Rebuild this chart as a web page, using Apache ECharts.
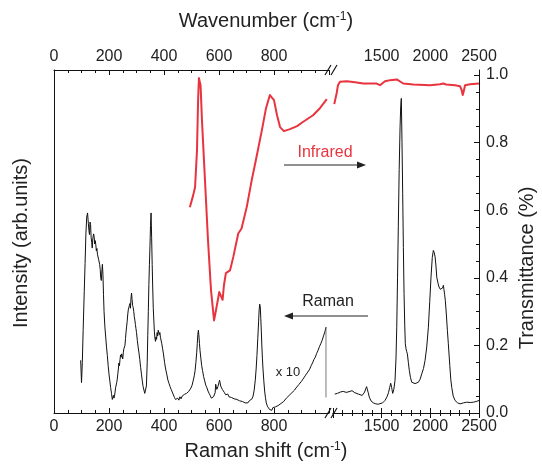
<!DOCTYPE html>
<html><head><meta charset="utf-8">
<script src="https://cdn.jsdelivr.net/npm/echarts@6/dist/echarts.min.js"></script>
<style>html,body{margin:0;padding:0;background:#fff}#c{width:542px;height:465px}</style>
</head><body><div id="c"></div>
<script>
// ---- data ----
const ramanLowX = [97,100,103,106,110,113,116,119,122,125,127,129,131,133,135,137,139,141,144,146,148,150,152,154,156,158,160,162,164,166,168,170,172,174,176,178,180,182,185,188,191,194,197,200,203,206,209,212,214,216,218,220,222,224,226,228,230,232,234,236,238,240,242,244,246,248,250,252,254,256,258,260,262,264,266,268,270,272,274,276,278,280,282,284,286,288,290,292,294,296,298,300,303,306,309,312,315,318,321,324,327,330,333,336,339,341,343,345,347,349,351,353,355,357,359,361,363,365,367,369,371,373,375,377,379,381,383,385,387,389,392,395,398,402,406,410,414,418,422,426,430,434,438,442,446,450,454,458,462,466,470,474,478,482,486,490,494,498,502,506,510,513,516,519,521,523,525,527,529,531,534,537,540,544,548,552,556,560,564,568,572,576,580,583,586,588,590,592,594,596,599,602,604,606,609,612,616,620,624,628,632,636,640,645,650,655,660,665,670,675,680,685,690,695,700,705,710,715,720,724,728,732,735,738,741,744,746,748,750,752,754,756,758,760,763,766,769,772,776,780,784,788,792,796,800,805,810,815,820,825,830,835,840,845,850,855,860,865,870,875,880,885,890,895,900,905,910,915,920,925,930,935,940,945,950,955,960,965,970,975,980,985,989];
const ramanLowY = [0.156,0.090,0.150,0.244,0.360,0.442,0.530,0.580,0.592,0.560,0.540,0.528,0.565,0.558,0.520,0.505,0.488,0.515,0.530,0.522,0.500,0.510,0.498,0.480,0.487,0.470,0.468,0.455,0.460,0.440,0.425,0.400,0.392,0.420,0.440,0.410,0.350,0.300,0.255,0.225,0.195,0.170,0.140,0.115,0.095,0.075,0.058,0.040,0.035,0.052,0.044,0.050,0.062,0.075,0.070,0.090,0.100,0.115,0.130,0.148,0.140,0.158,0.172,0.165,0.175,0.168,0.160,0.178,0.190,0.186,0.200,0.220,0.240,0.255,0.270,0.290,0.305,0.300,0.318,0.324,0.310,0.340,0.355,0.335,0.318,0.312,0.300,0.285,0.275,0.262,0.250,0.238,0.215,0.195,0.178,0.158,0.135,0.115,0.095,0.078,0.068,0.058,0.062,0.080,0.150,0.230,0.300,0.380,0.440,0.495,0.555,0.592,0.520,0.440,0.370,0.310,0.275,0.240,0.222,0.212,0.225,0.218,0.238,0.228,0.245,0.240,0.232,0.238,0.224,0.225,0.205,0.190,0.175,0.150,0.130,0.115,0.098,0.088,0.078,0.070,0.062,0.058,0.046,0.040,0.036,0.044,0.038,0.048,0.042,0.050,0.046,0.055,0.050,0.058,0.056,0.064,0.068,0.074,0.082,0.095,0.110,0.125,0.150,0.180,0.205,0.232,0.245,0.228,0.205,0.185,0.162,0.140,0.126,0.108,0.095,0.082,0.075,0.065,0.058,0.052,0.044,0.040,0.048,0.046,0.060,0.085,0.078,0.070,0.072,0.078,0.082,0.097,0.090,0.080,0.078,0.070,0.065,0.060,0.054,0.052,0.056,0.048,0.050,0.046,0.048,0.042,0.046,0.040,0.044,0.036,0.040,0.034,0.038,0.030,0.034,0.030,0.036,0.034,0.042,0.050,0.068,0.098,0.130,0.170,0.220,0.270,0.305,0.322,0.315,0.280,0.240,0.195,0.160,0.130,0.095,0.065,0.045,0.030,0.020,0.016,0.010,0.014,0.008,0.016,0.012,0.018,0.016,0.022,0.020,0.028,0.026,0.034,0.036,0.044,0.046,0.052,0.055,0.060,0.064,0.068,0.074,0.078,0.084,0.088,0.094,0.100,0.104,0.112,0.118,0.122,0.130,0.140,0.148,0.158,0.165,0.176,0.185,0.196,0.205,0.215,0.228,0.240,0.254];
// end of the "x 10" section (vertical marker line)
const markerX = [989, 989];
const markerY = [0.254, 0.046];

const ramanHighX = [1018,1030,1045,1060,1075,1090,1105,1120,1135,1150,1165,1180,1195,1209,1225,1240,1260,1280,1300,1315,1325,1336,1345,1353,1362,1373,1390,1414,1440,1465,1483,1510,1534,1555,1570,1582,1593,1603,1613,1625,1637,1647,1655,1663,1671,1680,1689,1696,1702,1709,1716,1723,1730,1737,1743,1750,1757,1764,1774,1784,1796,1809,1825,1843,1860,1877,1895,1912,1930,1946,1963,1980,1994,2007,2020,2031,2040,2049,2058,2066,2078,2089,2103,2117,2126,2134,2140,2147,2154,2165,2175,2185,2200,2210,2220,2235,2254,2280,2305,2340,2374,2410,2443,2470,2500];
const ramanHighY = [0.056,0.060,0.058,0.063,0.062,0.060,0.064,0.060,0.061,0.058,0.063,0.062,0.066,0.062,0.060,0.058,0.056,0.054,0.052,0.055,0.062,0.072,0.078,0.076,0.060,0.047,0.036,0.030,0.027,0.026,0.027,0.030,0.037,0.048,0.060,0.075,0.088,0.075,0.058,0.070,0.096,0.160,0.254,0.400,0.551,0.720,0.847,0.910,0.931,0.800,0.649,0.490,0.353,0.260,0.205,0.190,0.182,0.175,0.150,0.126,0.105,0.091,0.088,0.087,0.088,0.091,0.100,0.116,0.132,0.156,0.195,0.254,0.330,0.402,0.460,0.481,0.475,0.462,0.435,0.402,0.385,0.373,0.366,0.363,0.370,0.378,0.365,0.350,0.333,0.290,0.245,0.205,0.140,0.100,0.076,0.050,0.037,0.030,0.027,0.030,0.032,0.031,0.032,0.034,0.037];

const irLowX = [494,506,513,520,524,527,533,538,549,560,571,582,589,601,613,618,625,640,652,670,682,701,719,734,756,771,785,800,811,822,836,858,884,905,942,967,992];
const irLowY = [0.609,0.644,0.668,0.778,0.926,0.991,0.970,0.867,0.689,0.511,0.363,0.274,0.304,0.358,0.335,0.378,0.414,0.422,0.462,0.531,0.546,0.610,0.689,0.748,0.837,0.902,0.941,0.926,0.881,0.846,0.834,0.840,0.849,0.861,0.881,0.902,0.929];

const irHighX = [1013,1038,1051,1072,1141,1226,1311,1449,1483,1534,1586,1655,1722,1825,1997,2100,2134,2161,2254,2305,2321,2333,2341,2357,2408,2500];
const irHighY = [0.914,0.947,0.970,0.980,0.982,0.979,0.975,0.975,0.970,0.982,0.985,0.987,0.975,0.972,0.970,0.973,0.975,0.972,0.970,0.967,0.956,0.941,0.950,0.970,0.973,0.975];

const lowRange = [0, 1000];
const highRange = [1000, 2500];
const yMajor = [0, 0.2, 0.4, 0.6, 0.8, 1.0];
const yMinor = [0.05,0.1,0.15,0.25,0.3,0.35,0.45,0.5,0.55,0.65,0.7,0.75,0.85,0.9,0.95];

// ---- chart ----
const zip = (xs, ys) => xs.map((x, i) => [x, ys[i]]);
const FONT = "'Liberation Sans', Arial, sans-serif";
const TXT = '#222';
const RED = '#e8343e';
const YMAX = 1.015;

const lineAx = { show: true, lineStyle: { color: '#111', width: 1 } };
function xAx(grid, pos, range, interval, minorSplit, isHigh) {
  return {
    type: 'value', gridIndex: grid, position: pos,
    min: range[0], max: range[1], interval: interval,
    axisLine: lineAx,
    axisTick: { show: true, inside: true, length: 5, lineStyle: { color: '#111' } },
    minorTick: { show: true, splitNumber: minorSplit, length: 3, lineStyle: { color: '#111' } },
    splitLine: { show: false },
    axisLabel: { show: true, fontSize: 16, color: TXT, fontFamily: FONT, margin: pos === 'top' ? 5 : 6,
      showMinLabel: !isHigh, showMaxLabel: isHigh, formatter: v => String(v) }
  };
}

const chart = echarts.init(document.getElementById('c'), null, { renderer: 'canvas' });

function slash(cx, cy) {
  return { type: 'line', shape: { x1: cx - 3, y1: cy + 5, x2: cx + 3, y2: cy - 5 },
    style: { stroke: '#111', lineWidth: 1.2 }, z: 100 };
}
const supRich = (fs) => ({ sup: { fontSize: Math.round(fs * 0.6), verticalAlign: 'top', fontFamily: FONT, fill: TXT } });

chart.setOption({
  animation: false,
  backgroundColor: '#fff',
  grid: [
    { left: 54, right: 542 - 329, top: 70, bottom: 465 - 413 },
    { left: 333, right: 542 - 479, top: 70, bottom: 465 - 413 }
  ],
  xAxis: [
    xAx(0, 'bottom', lowRange, 200, 4, false),
    xAx(0, 'top', lowRange, 200, 4, false),
    xAx(1, 'bottom', highRange, 500, 5, true),
    xAx(1, 'top', highRange, 500, 5, true)
  ],
  yAxis: [
    { type: 'value', gridIndex: 0, position: 'left', min: 0, max: YMAX,
      axisLine: lineAx, axisTick: { show: false }, axisLabel: { show: false }, splitLine: { show: false } },
    { type: 'value', gridIndex: 1, position: 'right', min: 0, max: YMAX,
      axisLine: lineAx,
      axisTick: { show: true, inside: true, length: 5, customValues: yMajor, lineStyle: { color: '#111' } },
      axisLabel: { show: true, customValues: yMajor, fontSize: 16, color: TXT, fontFamily: FONT, margin: 7,
        formatter: v => v.toFixed(1) },
      splitLine: { show: false } },
    { type: 'value', gridIndex: 1, position: 'right', min: 0, max: YMAX,
      axisLine: { show: false },
      axisTick: { show: true, inside: true, length: 3, customValues: yMinor, lineStyle: { color: '#111' } },
      axisLabel: { show: false }, splitLine: { show: false } }
  ],
  series: [
    { type: 'line', xAxisIndex: 0, yAxisIndex: 0, data: zip(ramanLowX, ramanLowY), showSymbol: false, symbol: 'none',
      lineStyle: { color: '#111', width: 1 }, z: 3 },
    { type: 'line', xAxisIndex: 0, yAxisIndex: 0, data: zip(markerX, markerY), showSymbol: false, symbol: 'none',
      lineStyle: { color: '#555', width: 0.8 }, z: 3 },
    { type: 'line', xAxisIndex: 0, yAxisIndex: 0, data: zip(irLowX, irLowY), showSymbol: false, symbol: 'none',
      lineStyle: { color: RED, width: 2, join: 'round' }, z: 4 },
    { type: 'line', xAxisIndex: 2, yAxisIndex: 1, data: zip(ramanHighX, ramanHighY), showSymbol: false, symbol: 'none',
      lineStyle: { color: '#111', width: 1 }, z: 3 },
    { type: 'line', xAxisIndex: 2, yAxisIndex: 1, data: zip(irHighX, irHighY), showSymbol: false, symbol: 'none',
      lineStyle: { color: RED, width: 2, join: 'round' }, z: 4 }
  ],
  graphic: [
    slash(328, 70), slash(334, 70), slash(328, 413), slash(334, 413),
    { type: 'text', x: 266, y: 21, style: { text: 'Wavenumber (cm{sup|-1})', fontSize: 20, fontFamily: FONT, fill: TXT,
      align: 'center', verticalAlign: 'middle', rich: supRich(20) } },
    { type: 'text', x: 266, y: 451, style: { text: 'Raman shift (cm{sup|-1})', fontSize: 20, fontFamily: FONT, fill: TXT,
      align: 'center', verticalAlign: 'middle', rich: supRich(20) } },
    { type: 'text', x: 21, y: 243, rotation: Math.PI / 2, style: { text: 'Intensity (arb.units)', fontSize: 20, fontFamily: FONT, fill: TXT,
      align: 'center', verticalAlign: 'middle' } },
    { type: 'text', x: 527, y: 268, rotation: Math.PI / 2, style: { text: 'Transmittance (%)', fontSize: 20, fontFamily: FONT, fill: TXT,
      align: 'center', verticalAlign: 'middle' } },
    { type: 'text', x: 325, y: 153, style: { text: 'Infrared', fontSize: 16, fontFamily: FONT, fill: RED,
      align: 'center', verticalAlign: 'middle' } },
    { type: 'line', shape: { x1: 284, y1: 165, x2: 360, y2: 165 }, style: { stroke: '#222', lineWidth: 1 } },
    { type: 'polygon', shape: { points: [[366, 165], [357, 161.5], [357, 168.5]] }, style: { fill: '#222' } },
    { type: 'text', x: 328, y: 302, style: { text: 'Raman', fontSize: 16, fontFamily: FONT, fill: TXT,
      align: 'center', verticalAlign: 'middle' } },
    { type: 'line', shape: { x1: 290, y1: 316, x2: 368, y2: 316 }, style: { stroke: '#222', lineWidth: 1 } },
    { type: 'polygon', shape: { points: [[284, 316], [293, 312.5], [293, 319.5]] }, style: { fill: '#222' } },
    { type: 'text', x: 288, y: 372, style: { text: 'x 10', fontSize: 13, fontFamily: FONT, fill: TXT,
      align: 'center', verticalAlign: 'middle' } }
  ]
});
</script>
</body></html>
